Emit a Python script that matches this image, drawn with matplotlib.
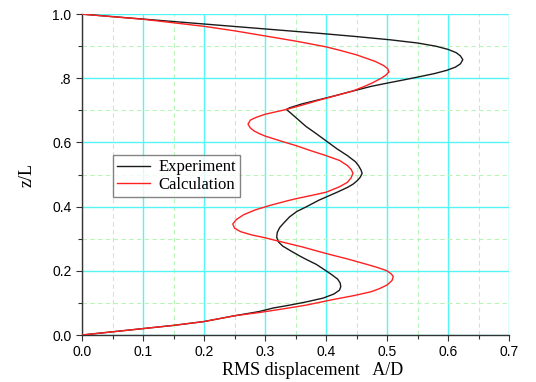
import matplotlib.pyplot as plt
from matplotlib.ticker import MultipleLocator, FixedLocator, FixedFormatter

# (z/L, A/D)
exp_z = [1.000, 0.990, 0.980, 0.970, 0.960, 0.950, 0.940, 0.930, 0.920, 0.910,
         0.900, 0.890, 0.880, 0.870, 0.858, 0.845, 0.835, 0.825, 0.815, 0.805,
         0.795, 0.785, 0.775, 0.760, 0.745, 0.735, 0.720, 0.708, 0.703, 0.690,
         0.670, 0.650, 0.630, 0.605, 0.580, 0.559, 0.540, 0.528, 0.515, 0.504,
         0.492, 0.481, 0.470, 0.460, 0.445, 0.430, 0.420, 0.400, 0.385, 0.368,
         0.350, 0.335, 0.320, 0.305, 0.290, 0.277, 0.260, 0.245, 0.236, 0.220,
         0.200, 0.187, 0.174, 0.162, 0.151, 0.140, 0.128, 0.115, 0.103, 0.093,
         0.084, 0.073, 0.060, 0.042, 0.030, 0.020, 0.010, 0.000]
exp_x = [0.000, 0.065, 0.130, 0.195, 0.260, 0.325, 0.390, 0.450, 0.505, 0.550,
         0.580, 0.600, 0.613, 0.620, 0.624, 0.620, 0.612, 0.598, 0.578, 0.553,
         0.527, 0.500, 0.474, 0.443, 0.413, 0.392, 0.360, 0.340, 0.335, 0.343,
         0.355, 0.367, 0.382, 0.400, 0.418, 0.435, 0.448, 0.453, 0.457, 0.459,
         0.456, 0.451, 0.444, 0.435, 0.418, 0.400, 0.388, 0.368, 0.352, 0.340,
         0.331, 0.324, 0.320, 0.319, 0.322, 0.329, 0.344, 0.358, 0.367, 0.384,
         0.400, 0.410, 0.419, 0.423, 0.424, 0.422, 0.413, 0.395, 0.367, 0.340,
         0.313, 0.290, 0.250, 0.200, 0.150, 0.100, 0.050, 0.000]

calc_z = [1.000, 0.992, 0.984, 0.973, 0.962, 0.948, 0.932, 0.916, 0.898, 0.886,
          0.873, 0.865, 0.853, 0.840, 0.830, 0.820, 0.810, 0.800, 0.792, 0.785,
          0.775, 0.760, 0.745, 0.730, 0.715, 0.703, 0.688, 0.678, 0.670, 0.657,
          0.645, 0.636, 0.628, 0.620, 0.605, 0.590, 0.575, 0.559, 0.544, 0.528,
          0.516, 0.504, 0.490, 0.476, 0.462, 0.445, 0.435, 0.425, 0.419, 0.405,
          0.390, 0.375, 0.360, 0.346, 0.333, 0.322, 0.312, 0.303, 0.293, 0.275,
          0.254, 0.237, 0.220, 0.210, 0.200, 0.190, 0.182, 0.170, 0.156, 0.145,
          0.135, 0.123, 0.110, 0.093, 0.080, 0.070, 0.060, 0.042, 0.030, 0.020,
          0.010, 0.000]
calc_x = [0.000, 0.050, 0.100, 0.150, 0.200, 0.250, 0.300, 0.350, 0.400, 0.425,
          0.450, 0.462, 0.480, 0.494, 0.501, 0.503, 0.498, 0.490, 0.482, 0.475,
          0.463, 0.443, 0.414, 0.385, 0.358, 0.335, 0.300, 0.285, 0.276, 0.272,
          0.276, 0.282, 0.290, 0.300, 0.325, 0.351, 0.374, 0.400, 0.422, 0.435,
          0.441, 0.444, 0.441, 0.435, 0.422, 0.400, 0.376, 0.351, 0.338, 0.310,
          0.284, 0.265, 0.253, 0.247, 0.250, 0.260, 0.278, 0.300, 0.321, 0.360,
          0.400, 0.435, 0.467, 0.485, 0.500, 0.507, 0.510, 0.508, 0.500, 0.488,
          0.474, 0.446, 0.410, 0.367, 0.325, 0.290, 0.250, 0.200, 0.150, 0.100,
          0.050, 0.000]

y_ticks = [0.0, 0.2, 0.4, 0.6, 0.8, 1.0]
y_labels = ['0.0', '0.2', '0.4', '0.6', '.8', '1.0']

fig = plt.figure(figsize=(5.36, 3.82), dpi=100)
ax = fig.add_axes([0.153, 0.123, 0.797, 0.840])

ax.plot(exp_x, exp_z, color='#1a1a1a', lw=1.0, label='Experiment', zorder=3)
ax.plot(calc_x, calc_z, color='#ff2020', lw=1.0, label='Calculation', zorder=3)

ax.set_xlim(0, 0.7)
ax.set_ylim(0, 1.0)
ax.xaxis.set_major_locator(MultipleLocator(0.1))
ax.xaxis.set_minor_locator(MultipleLocator(0.05))
ax.yaxis.set_major_locator(FixedLocator(y_ticks))
ax.yaxis.set_major_formatter(FixedFormatter(y_labels))
ax.yaxis.set_minor_locator(MultipleLocator(0.1))

ax.grid(which='major', color='#55f5f5', lw=1.0, ls='-')
ax.grid(which='minor', color='#b8f5b8', lw=0.8, ls=(0, (4, 3)))
ax.set_axisbelow(True)

for s in ['top', 'right']:
    ax.spines[s].set_visible(False)
for s in ['left', 'bottom']:
    ax.spines[s].set_color('#333333')
    ax.spines[s].set_linewidth(1.0)

ax.tick_params(which='major', direction='out', length=4, width=0.8,
               colors='#333333', labelcolor='black', labelsize=10)
ax.tick_params(which='minor', direction='out', length=3, width=0.8,
               colors='#333333')
for lab in ax.get_xticklabels() + ax.get_yticklabels():
    lab.set_family('Liberation Sans')

ax.set_xlabel('RMS displacement   A/D', family='Liberation Serif', fontsize=13)
ax.xaxis.set_label_coords(0.54, -0.085)
ax.set_ylabel('z/L', family='Liberation Serif', fontsize=13, labelpad=12)

leg = ax.legend(loc='upper left', bbox_to_anchor=(0.072, 0.56),
                prop={'family': 'Liberation Serif', 'size': 12},
                frameon=True, fancybox=False, handlelength=2.0,
                borderpad=0.25, labelspacing=0.1, handletextpad=0.5,
                borderaxespad=0)
leg.get_frame().set_edgecolor('#666666')
leg.get_frame().set_linewidth(1.0)

fig.savefig('out.png', dpi=100)
